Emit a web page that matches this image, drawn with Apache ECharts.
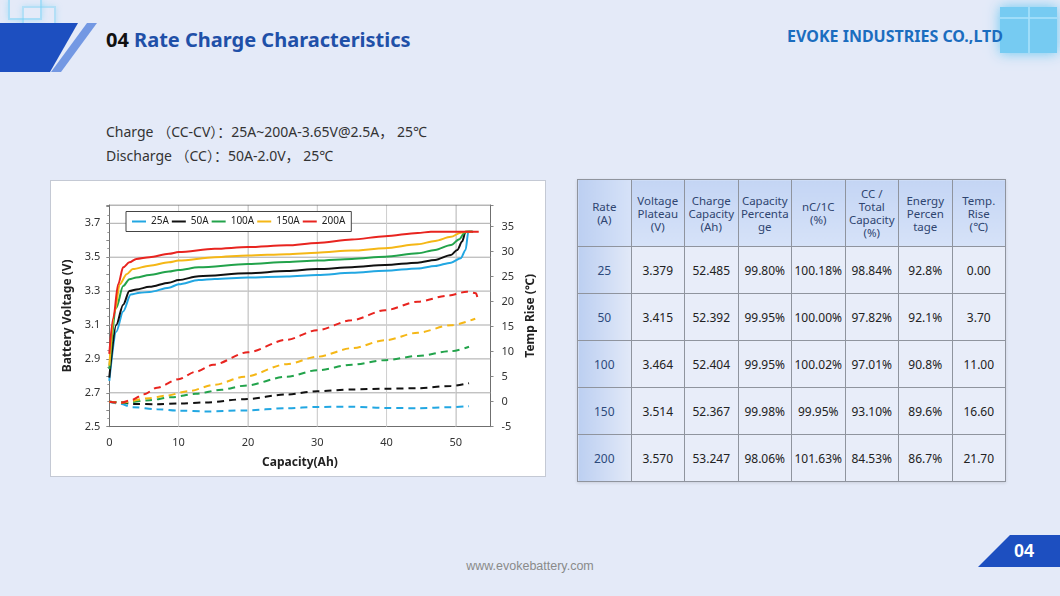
<!DOCTYPE html>
<html><head><meta charset="utf-8">
<script src="https://cdn.jsdelivr.net/npm/echarts@6/dist/echarts.min.js"></script>
<style>
html,body{margin:0;padding:0;}
body{width:1060px;height:596px;position:relative;overflow:hidden;background:#e4eaf8;font-family:'Noto Sans',sans-serif;}
.abs{position:absolute;}
#shape1{left:0;top:23px;width:100px;height:49px;background:#1d4fc0;clip-path:polygon(0 0,78px 0,50px 49px,0 49px);}
#shape2{left:0;top:23px;width:100px;height:49px;background:#7398e3;clip-path:polygon(87px 0,97px 0,61px 49px,51px 49px);}
#glow1{left:8px;top:0;width:30px;height:18px;border:2px solid rgba(120,210,245,0.55);border-top:none;box-shadow:0 0 6px rgba(120,210,245,0.5);}
#glow2{left:22px;top:6px;width:30px;height:17px;border:2px solid rgba(120,210,245,0.45);box-shadow:0 0 6px rgba(120,210,245,0.4);}
#title{left:106px;top:27px;font-size:20px;font-weight:bold;line-height:26px;color:#1f50a8;white-space:nowrap;}
#title span{color:#111;}
#company{right:57px;top:24px;font-size:16px;font-weight:bold;line-height:24px;color:#1b6dbf;white-space:nowrap;}
#rsq{left:1000px;top:7px;width:57px;height:46px;background:rgba(90,195,240,0.8);box-shadow:0 0 12px rgba(90,195,240,0.9);}
#rsq1{left:1028px;top:7px;width:2px;height:46px;background:rgba(170,225,250,0.8);}
#rsq2{left:1000px;top:17px;width:57px;height:2px;background:rgba(170,225,250,0.8);}
#cond{left:106px;top:120px;font-size:14px;line-height:24px;color:#333;font-family:'Noto Sans','Noto Sans CJK SC',sans-serif;white-space:nowrap;}
#chartbox{left:50px;top:180px;width:494px;height:295px;background:#fff;border:1px solid #c4c9d4;}
#chart{width:494px;height:295px;}
table{position:absolute;left:577px;top:179px;width:429px;border-collapse:collapse;table-layout:fixed;box-shadow:0 1px 3px rgba(0,0,0,0.12);}
th,td{border:1px solid #8f949e;text-align:center;padding:0;}
th{background:linear-gradient(#c4d5f4,#d6e2f8);font-weight:normal;font-size:11.5px;line-height:13px;color:#2f4570;height:66px;}
td{background:#e8edf9;font-size:12px;color:#222;height:46px;}
td.rate{background:linear-gradient(90deg,#bccff1,#e2e9f8);color:#2d4a7c;}
th.rate{background:linear-gradient(90deg,#bccff1,#d6e2f8);}
#footer{left:430px;top:557px;width:200px;text-align:center;font-size:12.5px;line-height:18px;color:#8a8a8a;font-family:'Liberation Sans',Arial,sans-serif;}
#pg{left:0;top:535px;width:1060px;height:32px;background:#1d4fc0;clip-path:polygon(1010px 0,1060px 0,1060px 32px,978px 32px);}
#pgnum{left:1004px;top:539px;width:40px;text-align:center;font-size:18px;font-weight:bold;line-height:24px;color:#fff;font-family:'Liberation Sans',Arial,sans-serif;}
</style></head><body>
<div class="abs" id="glow1"></div><div class="abs" id="glow2"></div>
<div class="abs" id="shape1"></div><div class="abs" id="shape2"></div>
<div class="abs" id="title"><span>04</span> Rate Charge Characteristics</div>
<div class="abs" id="rsq"></div><div class="abs" id="rsq1"></div><div class="abs" id="rsq2"></div>
<div class="abs" id="company">EVOKE INDUSTRIES CO.,LTD</div>
<div class="abs" id="cond">Charge （CC-CV）：25A~200A-3.65V@2.5A， 25℃<br>Discharge （CC）：50A-2.0V， 25℃</div>
<div class="abs" id="chartbox"><div id="chart"></div></div>
<table id="tbl"></table>
<div class="abs" id="footer">www.evokebattery.com</div>
<div class="abs" id="pg"></div><div class="abs" id="pgnum">04</div>
<script>
// ---- chart data ----
const rateNames = ['25A','50A','100A','150A','200A'];
const rateColors = ['#22a7e2','#111111','#22a34b','#f5b716','#e8241f'];

const cap25 = [0,1,2,3.1,4.4,5.8,8.6,10,12.9,15.2,20,25.6,30,35,39.8,44.5,47,49.3,50.7,51.4,51.8,52.5];
const volt25 = [2.77,3.06,3.18,3.28,3.29,3.295,3.32,3.34,3.365,3.372,3.38,3.386,3.395,3.408,3.42,3.434,3.448,3.468,3.494,3.543,3.65,3.65];
const cap50 = [0,1,2,2.9,3.9,5.8,8.6,10,12.9,20,25.6,30,35,39.8,44.5,47,49.3,50.2,50.9,51.4,52.4];
const volt50 = [2.79,3.10,3.22,3.30,3.31,3.325,3.35,3.365,3.388,3.405,3.418,3.43,3.441,3.454,3.468,3.484,3.513,3.543,3.592,3.65,3.65];
const cap100 = [0,1,2,2.9,3.9,5.8,8.6,10,12.9,20,25.6,30,35,39.8,44.5,47,49.3,50.5,51.2,51.6,52.4];
const volt100 = [2.84,3.20,3.33,3.37,3.38,3.395,3.415,3.425,3.44,3.46,3.472,3.48,3.49,3.503,3.523,3.543,3.572,3.606,3.641,3.65,3.65];
const cap150 = [0,0.8,1.5,2.5,3.4,5.8,8.6,10,15.2,20,25.6,30,35,39.8,44.5,47,49.3,50.7,51.4,52.4];
const volt150 = [2.86,3.18,3.34,3.40,3.43,3.45,3.47,3.48,3.50,3.51,3.518,3.527,3.539,3.553,3.576,3.596,3.62,3.645,3.65,3.65];
const cap200 = [0,0.57,1.28,2,2.9,3.9,5.8,8.6,10,15.2,20,25.6,30,35,39.8,44.5,46.4,53.3];
const volt200 = [2.93,3.14,3.34,3.44,3.47,3.49,3.50,3.52,3.53,3.55,3.56,3.57,3.584,3.604,3.624,3.643,3.65,3.65];

const capT25 = [0,1.5,3.4,6.9,10.2,13.9,19.5,25.6,30,35,39.8,44.5,49.3,51.9];
const temp25 = [0,-0.4,-1.1,-1.5,-1.8,-1.95,-1.75,-1.3,-1.05,-1,-1.25,-1.3,-1.1,-0.9];
const capT50 = [0,1.5,3.4,6.9,10.2,13.9,19.5,25.6,30,35,39.8,44.5,49.3,51.9];
const temp50 = [0,-0.1,-0.45,-0.5,-0.35,-0.15,0.5,1.45,2.1,2.45,2.6,2.7,3.15,3.7];
const capT100 = [0,2,5.8,9,12.5,16.2,19.5,25.6,30,35,39.8,44.5,49.3,51.9];
const temp100 = [0,-0.2,0.3,0.9,1.6,2.4,3.2,5,6.3,7.4,8.3,9.15,10.1,11];
const capT150 = [0,1.5,5.8,8.1,11.4,15.2,19.5,25.6,30,35,39.8,44.5,49.3,52.8];
const temp150 = [0,-0.2,0.7,1.2,2.1,3.4,5,7.5,9,10.7,12.3,13.8,15.3,16.6];
const capT200 = [0,1.7,3.3,5,6.9,10,12.5,15,20,25.6,30,35,39.8,44.5,48.8,51.6,52.9,53.2];
const temp200 = [0,-0.2,0.4,1.5,2.8,4.5,6,7.4,9.9,12.4,14.3,16.3,18.3,20,21.2,22,21.7,20.3];

const voltTickLabels = ['2.5','2.7','2.9','3.1','3.3','3.5','3.7'];
const tempTickLabels = ['-5','0','5','10','15','20','25','30','35'];
const capTickLabels = ['0','10','20','30','40','50'];

// ---- table data ----
const tableHeaders = ['Rate<br>(A)','Voltage<br>Plateau<br>(V)','Charge<br>Capacity<br>(Ah)','Capacity<br>Percenta<br>ge','nC/1C<br>(%)','CC /<br>Total<br>Capacity<br>(%)','Energy<br>Percen<br>tage','Temp.<br>Rise<br>(℃)'];
const tblRate = ['25','50','100','150','200'];
const tblPlateau = ['3.379','3.415','3.464','3.514','3.570'];
const tblChargeCap = ['52.485','52.392','52.404','52.367','53.247'];
const tblCapPct = ['99.80%','99.95%','99.95%','99.98%','98.06%'];
const tblNC1C = ['100.18%','100.00%','100.02%','99.95%','101.63%'];
const tblCCTotal = ['98.84%','97.82%','97.01%','93.10%','84.53%'];
const tblEnergy = ['92.8%','92.1%','90.8%','89.6%','86.7%'];
const tblTemp = ['0.00','3.70','11.00','16.60','21.70'];

// build table
(function(){
  let h = '<tr>' + tableHeaders.map((t,i)=>'<th'+(i===0?' class="rate"':'')+'>'+t+'</th>').join('') + '</tr>';
  for (let r=0;r<tblRate.length;r++){
    h += '<tr><td class="rate">'+tblRate[r]+'</td><td>'+tblPlateau[r]+'</td><td>'+tblChargeCap[r]+'</td><td>'+tblCapPct[r]+'</td><td>'+tblNC1C[r]+'</td><td>'+tblCCTotal[r]+'</td><td>'+tblEnergy[r]+'</td><td>'+tblTemp[r]+'</td></tr>';
  }
  document.getElementById('tbl').innerHTML = h;
})();

const zip = (a,b)=>a.map((x,i)=>[x,b[i]]);
const voltCaps = [cap25,cap50,cap100,cap150,cap200];
const voltVals = [volt25,volt50,volt100,volt150,volt200];
const tempCaps = [capT25,capT50,capT100,capT150,capT200];
const tempVals = [temp25,temp50,temp100,temp150,temp200];

const X_MIN = 0, X_MAX = 55, Y_MIN = 2.5, Y_MAX = 3.808;
const series = [];
// reference gridlines as line series spanning the axis extents at each tick value
voltTickLabels.slice(1).forEach(s=>{
  const v = parseFloat(s);
  series.push({name:'hgrid'+s,type:'line',xAxisIndex:0,yAxisIndex:0,data:[[X_MIN,v],[X_MAX,v]],showSymbol:false,symbol:'none',
    z:3,lineStyle:{color:'#a9a9a9',width:1},itemStyle:{color:'#a9a9a9'}});
});
capTickLabels.slice(1).forEach(s=>{
  const v = parseFloat(s);
  series.push({name:'vgrid'+s,type:'line',xAxisIndex:0,yAxisIndex:0,data:[[v,Y_MIN],[v,Y_MAX]],showSymbol:false,symbol:'none',
    z:3,lineStyle:{color:'#d0d0d0',width:1},itemStyle:{color:'#d0d0d0'}});
});
series.push({name:'topborder',type:'line',xAxisIndex:0,yAxisIndex:0,data:[[X_MIN,Y_MAX],[X_MAX,Y_MAX]],showSymbol:false,symbol:'none',
  z:3,lineStyle:{color:'#6f6f6f',width:1},itemStyle:{color:'#6f6f6f'}});

rateNames.forEach((n,i)=>{
  series.push({name:n,type:'line',xAxisIndex:0,yAxisIndex:0,data:zip(voltCaps[i],voltVals[i]),showSymbol:false,symbol:'none',
    smooth:0.3,smoothMonotone:'x',lineStyle:{color:rateColors[i],width:2},itemStyle:{color:rateColors[i]},z:4});
});
rateNames.forEach((n,i)=>{
  series.push({name:n+' T',type:'line',xAxisIndex:0,yAxisIndex:1,data:zip(tempCaps[i],tempVals[i]),showSymbol:false,symbol:'none',
    smooth:0.3,smoothMonotone:'x',lineStyle:{color:rateColors[i],width:2,type:[7,5]},itemStyle:{color:rateColors[i]},z:4});
});

const FF = "'Noto Sans', sans-serif";
const chart = echarts.init(document.getElementById('chart'),null,{renderer:'canvas'});
chart.setOption({
  animation:false,
  textStyle:{fontFamily:FF},
  grid:{left:58.3,top:24,right:48,bottom:49.3,show:false},
  legend:{data:rateNames,left:75,top:30.5,orient:'horizontal',backgroundColor:'#fff',borderColor:'#444',borderWidth:1,z:10,
    icon:'rect',padding:[5,6],itemWidth:14,itemHeight:2,itemGap:3,textStyle:{fontSize:10,color:'#222',fontFamily:FF}},
  xAxis:[
    {type:'value',position:'bottom',min:X_MIN,max:X_MAX,interval:10,
      axisLine:{show:true,onZero:false,lineStyle:{color:'#6f6f6f'}},axisTick:{show:false},
      axisLabel:{fontSize:11,color:'#333',margin:11,formatter:v=>{const s=String(Math.round(v));return capTickLabels.includes(s)&&Math.abs(v-Math.round(v))<1e-6?s:'';}},
      splitLine:{show:true,lineStyle:{color:'#d0d0d0',width:1,type:'solid'}},
      name:'Capacity(Ah)',nameLocation:'middle',nameGap:30,nameTextStyle:{fontSize:12,fontWeight:'bold',color:'#222'}}
  ],
  yAxis:[
    {type:'value',position:'left',min:Y_MIN,max:Y_MAX,interval:0.1,
      axisLine:{show:true,onZero:false,lineStyle:{color:'#6f6f6f'}},axisTick:{show:true,length:3,lineStyle:{color:'#888'}},
      minorTick:{show:true,splitNumber:2,length:2,lineStyle:{color:'#999'}},
      axisLabel:{fontSize:11,color:'#333',margin:9,formatter:v=>{const s=v.toFixed(1);return voltTickLabels.includes(s)&&Math.abs(v*10-Math.round(v*10))<1e-6?s:'';}},
      splitLine:{show:false},
      name:'Battery Voltage (V)',nameLocation:'middle',nameGap:30,nameTextStyle:{fontSize:12,fontWeight:'bold',color:'#222'}},
    {type:'value',position:'right',min:-5,max:39.34,interval:5,
      axisLine:{show:true,onZero:false,lineStyle:{color:'#6f6f6f'}},axisTick:{show:true,length:3,lineStyle:{color:'#888'}},
      axisLabel:{fontSize:11,color:'#333',margin:11,formatter:v=>{const s=String(Math.round(v));return tempTickLabels.includes(s)&&Math.abs(v-Math.round(v))<1e-6?s:'';}},
      splitLine:{show:false},
      name:'Temp Rise (℃)',nameLocation:'middle',nameGap:33,nameTextStyle:{fontSize:12,fontWeight:'bold',color:'#222'}}
  ],
  series:series
});
</script>
</body></html>
